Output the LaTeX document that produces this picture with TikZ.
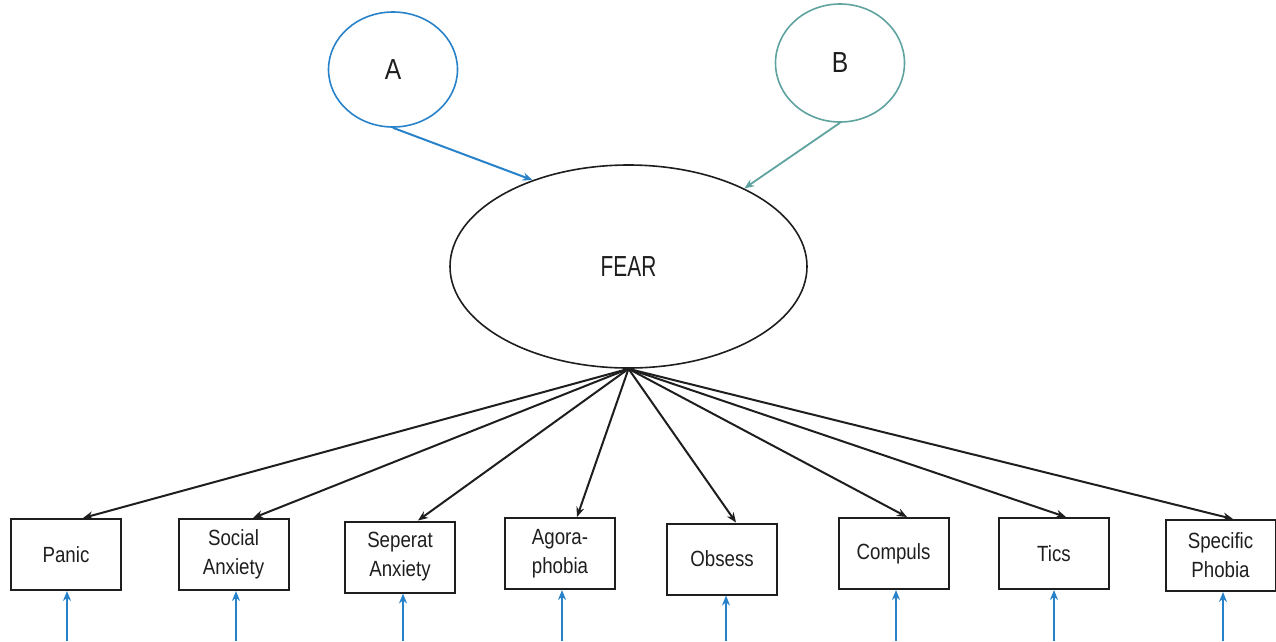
\documentclass[tikz,border=0pt]{standalone}
\usepackage{fontspec}
\setmainfont{Liberation Sans}[FakeStretch=0.85]
\newfontfamily\fearfont{Liberation Sans}[FakeStretch=0.72]
\usetikzlibrary{shapes.geometric,arrows.meta}
\definecolor{ablue}{RGB}{40,130,202}
\definecolor{bteal}{RGB}{95,163,160}
\definecolor{ink}{RGB}{30,30,30}
\tikzset{
  latent/.style={ellipse,draw,line width=1.6pt,inner sep=0pt},
  obsbox/.style={rectangle,draw=ink,line width=2pt,minimum width=110pt,minimum height=71pt,inner sep=0pt,align=center,font=\fontsize{22}{29}\selectfont,text=ink},
  load/.style={draw=ink,line width=2pt,-{Stealth[length=10pt,width=8pt]}},
  errarr/.style={draw=ablue,line width=2pt,-{Stealth[length=10pt,width=8pt]}},
}
\begin{document}
\begin{tikzpicture}[x=1pt,y=-1pt]
\useasboundingbox (0,0) rectangle (1276,641);
\node[latent,draw=ablue,minimum width=129pt,minimum height=115pt,font=\fontsize{29}{30}\selectfont,text=ink] (A) at (393,69.5) {A};
\node[latent,draw=bteal,minimum width=129pt,minimum height=118pt,font=\fontsize{29}{30}\selectfont,text=ink] (B) at (840,63) {B};
\node[latent,draw=ink,minimum width=357pt,minimum height=203pt,font=\fearfont\fontsize{29}{30}\selectfont,text=ink] (fear) at (628.5,266.5) {FEAR};

\draw[draw=ablue,line width=2pt,-{Stealth[length=10pt,width=8pt]}] (A.south) -- (fear.138.5);
\draw[draw=bteal,line width=1.8pt,-{Stealth[length=10pt,width=8pt]}] (B.south) -- (fear.34);

\node[obsbox] (p1) at (66,554.5) {Panic};
\node[obsbox] (p2) at (233.5,554.5) {Social\\Anxiety};
\node[obsbox] (p3) at (400,557) {Seperat\\Anxiety};
\node[obsbox] (p4) at (560,553.5) {Agora-\\phobia};
\node[obsbox] (p5) at (722,559) {Obsess};
\node[obsbox] (p6) at (893.5,553.5) {Compuls};
\node[obsbox] (p7) at (1054,553.5) {Tics};
\node[obsbox] (p8) at (1220.5,555.5) {Specific\\Phobia};

\draw[load] (fear.south) -- ([xshift=17pt]p1.north);
\draw[load] (fear.south) -- ([xshift=19.5pt]p2.north);
\draw[load] (fear.south) -- ([xshift=18pt]p3.north);
\draw[load] (fear.south) -- ([xshift=17pt]p4.north);
\draw[load] (fear.south) -- ([xshift=14pt]p5.north);
\draw[load] (fear.south) -- ([xshift=13.5pt]p6.north);
\draw[load] (fear.south) -- ([xshift=12pt]p7.north);
\draw[load] (fear.south) -- ([xshift=12.5pt]p8.north);

\coordinate (e1) at (67,641);
\coordinate (e2) at (236,641);
\coordinate (e3) at (403,641);
\coordinate (e4) at (562,641);
\coordinate (e5) at (726,641);
\coordinate (e6) at (896,641);
\coordinate (e7) at (1054,641);
\coordinate (e8) at (1223,641);
\draw[errarr] (e1) -- (e1 |- p1.south);
\draw[errarr] (e2) -- (e2 |- p2.south);
\draw[errarr] (e3) -- (e3 |- p3.south);
\draw[errarr] (e4) -- (e4 |- p4.south);
\draw[errarr] (e5) -- (e5 |- p5.south);
\draw[errarr] (e6) -- (e6 |- p6.south);
\draw[errarr] (e7) -- (e7 |- p7.south);
\draw[errarr] (e8) -- (e8 |- p8.south);
\end{tikzpicture}
\end{document}
